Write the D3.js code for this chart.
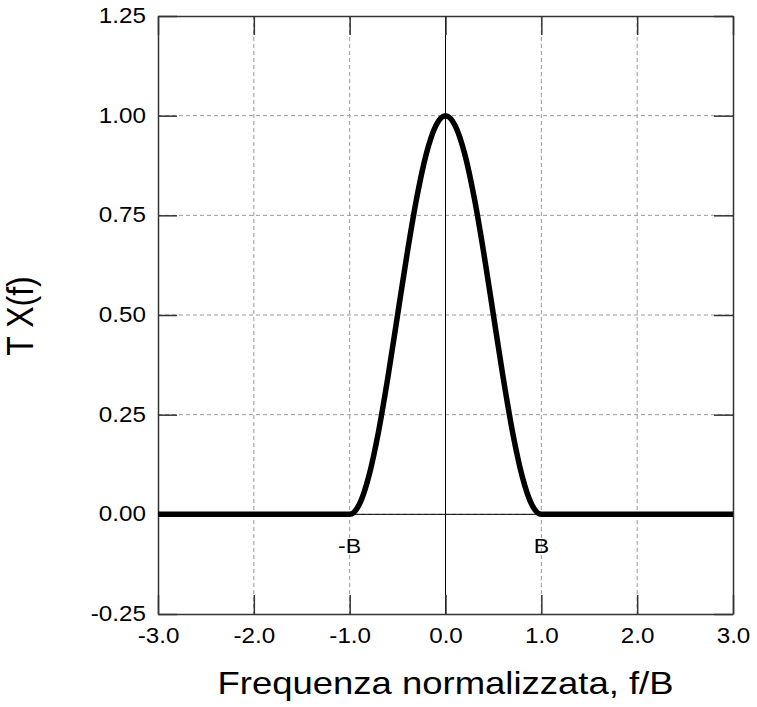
<!DOCTYPE html>
<html><head><meta charset="utf-8">
<script src="https://cdn.jsdelivr.net/npm/d3@7"></script>
<style>body{margin:0;background:#fff}svg{display:block}text{font-family:"Liberation Sans",Arial,sans-serif}</style>
</head><body>
<script>
const xTicks = [-3,-2,-1,0,1,2,3];
const yTicks = [-0.25,0,0.25,0.5,0.75,1.0,1.25];
const fVals = [-3,-1,-0.9,-0.8,-0.7,-0.6,-0.5,-0.4,-0.3,-0.2,-0.1,0,0.1,0.2,0.3,0.4,0.5,0.6,0.7,0.8,0.9,1,3];
const tXVals = [0,0,0.0245,0.0955,0.2061,0.3455,0.5,0.6545,0.7939,0.9045,0.9755,1,0.9755,0.9045,0.7939,0.6545,0.5,0.3455,0.2061,0.0955,0.0245,0,0];
const markerLabels = [{f:-1,t:"-B"},{f:1,t:"B"}];

const W=757,H=707;
const svg=d3.select("body").append("svg").attr("width",W).attr("height",H);
const x=d3.scaleLinear().domain([-3,3]).range([158,733]);
const y=d3.scaleLinear().domain([-0.25,1.25]).range([614,16]);
const g=svg.append("g");
const fmtX=d=>d3.format(".1f")(d).replace("\u2212","-");
const fmtY=d=>d3.format(".2f")(d).replace("\u2212","-");
// gridlines
g.selectAll(".gx").data(xTicks.slice(1,-1)).join("line")
 .attr("x1",d=>x(d)).attr("x2",d=>x(d)).attr("y1",y(1.25)).attr("y2",y(-0.25))
 .attr("stroke","#999").attr("stroke-dasharray","4,3").attr("stroke-width",1);
g.selectAll(".gy").data(yTicks.slice(1,-1)).join("line")
 .attr("y1",d=>y(d)).attr("y2",d=>y(d)).attr("x1",x(-3)).attr("x2",x(3))
 .attr("stroke","#999").attr("stroke-dasharray","4,3").attr("stroke-width",1);
// zero lines
g.append("line").attr("x1",x(-3)).attr("x2",x(3)).attr("y1",y(0)).attr("y2",y(0)).attr("stroke","#000").attr("stroke-width",1);
g.append("line").attr("x1",x(0)).attr("x2",x(0)).attr("y1",y(-0.25)).attr("y2",y(1.25)).attr("stroke","#000").attr("stroke-width",1);
// axes with inward ticks
const tl=19;
const ax=d3.axisBottom(x).tickValues(xTicks).tickFormat(fmtX).tickSizeInner(-tl).tickSizeOuter(0).tickPadding(13);
const axG=svg.append("g").attr("transform",`translate(0,${y(-0.25)})`).call(ax);
const axT=d3.axisTop(x).tickValues(xTicks).tickFormat("").tickSizeInner(-tl).tickSizeOuter(0);
const axTG=svg.append("g").attr("transform",`translate(0,${y(1.25)})`).call(axT);
const ay=d3.axisLeft(y).tickValues(yTicks).tickFormat(fmtY).tickSizeInner(-tl).tickSizeOuter(0).tickPadding(11);
const ayG=svg.append("g").attr("transform",`translate(${x(-3)},0)`).call(ay);
const ayR=d3.axisRight(y).tickValues(yTicks).tickFormat("").tickSizeInner(-tl).tickSizeOuter(0);
const ayRG=svg.append("g").attr("transform",`translate(${x(3)},0)`).call(ayR);
[axG,axTG,ayG,ayRG].forEach(s=>{s.select(".domain").attr("stroke","#333").attr("stroke-width",1.5);
 s.selectAll(".tick line").attr("stroke","#333").attr("stroke-width",1.5);
 s.attr("font-size",22).attr("font-family","'Liberation Sans',Arial,sans-serif");
 s.selectAll("text").attr("fill","#000").attr("transform","scale(1.1,1)");});
ayG.selectAll("text").attr("dy","0.3em");
// curve
const line=d3.line().x((d,i)=>x(fVals[i])).y(d=>y(d)).curve(d3.curveMonotoneX);
svg.append("path").datum(tXVals).attr("d",line).attr("fill","none").attr("stroke","#000").attr("stroke-width",5.5).attr("stroke-linejoin","round");
// marker labels
svg.selectAll(".ml").data(markerLabels).join("text")
 .attr("transform",d=>`translate(${x(d.f)},${y(0)+39}) scale(1.1,1)`)
 .attr("text-anchor","middle").attr("font-size",21).text(d=>d.t);
// titles
svg.append("text").attr("transform",`translate(${x(0)},694) scale(1.14,1)`).attr("text-anchor","middle").attr("font-size",32).text("Frequenza normalizzata, f/B");
svg.append("text").attr("transform",`translate(33,316) scale(1.14,1) rotate(-90)`).attr("text-anchor","middle").attr("font-size",32).text("T X(f)");
</script>
</body></html>
